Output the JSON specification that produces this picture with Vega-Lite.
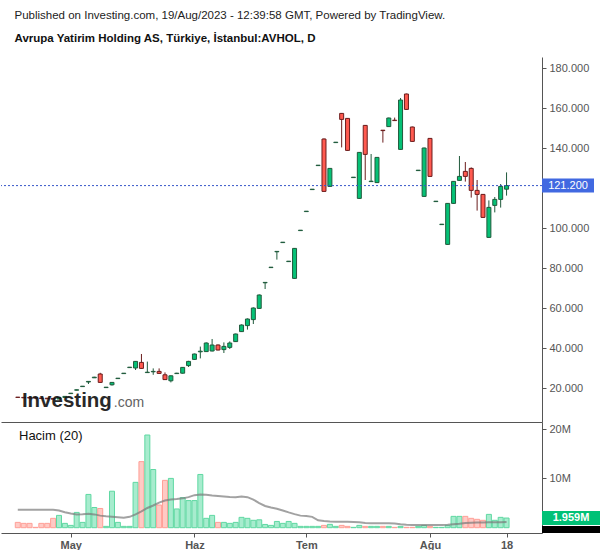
{
  "$schema": "https://vega.github.io/schema/vega-lite/v6.json",
  "background": "white",
  "padding": {"left": 0, "top": 10, "right": 0, "bottom": 0},
  "spacing": 0,
  "config": {"view": {"stroke": null}, "font": "Liberation Sans", "concat": {"spacing": 0}},
  "title": {
    "text": "Published on Investing.com, 19/Aug/2023 - 12:39:58 GMT, Powered by TradingView.",
    "subtitle": "Avrupa Yatirim Holding AS, Türkiye, İstanbul:AVHOL, D",
    "anchor": "start", "frame": "bounds", "dx": 14, "offset": 13,
    "font": "Liberation Sans", "fontSize": 11.5, "fontWeight": "normal", "color": "#222222",
    "subtitleFont": "Liberation Sans", "subtitleFontSize": 11.5, "subtitleFontWeight": "bold", "subtitleColor": "#111111",
    "subtitlePadding": 11
  },
  "datasets": {
    "candles": [
      {"i":0,"date":"2023-04-17","o":15.4,"h":15.5,"l":15.2,"c":15.3,"v":1080000,"ma":3650000},
      {"i":1,"date":"2023-04-18","o":15.3,"h":15.4,"l":15.0,"c":15.1,"v":880000,"ma":3650000},
      {"i":2,"date":"2023-04-19","o":15.2,"h":15.3,"l":14.9,"c":15.0,"v":880000,"ma":3650000},
      {"i":3,"date":"2023-04-20","o":15.1,"h":15.2,"l":14.9,"c":15.0,"v":70000,"ma":3650000},
      {"i":4,"date":"2023-04-24","o":15.0,"h":15.1,"l":14.7,"c":14.8,"v":880000,"ma":3650000},
      {"i":5,"date":"2023-04-25","o":14.9,"h":15.0,"l":14.5,"c":14.6,"v":880000,"ma":3650000},
      {"i":6,"date":"2023-04-26","o":14.8,"h":15.0,"l":14.2,"c":14.4,"v":1900000,"ma":3650000},
      {"i":7,"date":"2023-04-27","o":14.5,"h":15.4,"l":14.4,"c":15.2,"v":2500000,"ma":3500000},
      {"i":8,"date":"2023-04-28","o":15.3,"h":16.0,"l":15.2,"c":15.8,"v":880000,"ma":3150000},
      {"i":9,"date":"2023-05-02","o":17.2,"h":17.5,"l":17.1,"c":17.4,"v":470000,"ma":2900000},
      {"i":10,"date":"2023-05-03","o":18.9,"h":19.2,"l":18.8,"c":19.1,"v":3100000,"ma":2700000},
      {"i":11,"date":"2023-05-04","o":20.7,"h":21.0,"l":20.6,"c":20.9,"v":1080000,"ma":2750000},
      {"i":12,"date":"2023-05-05","o":23.0,"h":23.4,"l":22.0,"c":23.3,"v":6750000,"ma":2850000},
      {"i":13,"date":"2023-05-08","o":25.1,"h":25.6,"l":25.0,"c":25.4,"v":4100000,"ma":2700000},
      {"i":14,"date":"2023-05-09","o":27.0,"h":27.6,"l":22.6,"c":22.8,"v":3900000,"ma":2450000},
      {"i":15,"date":"2023-05-10","o":20.2,"h":20.5,"l":20.1,"c":20.4,"v":270000,"ma":2300000},
      {"i":16,"date":"2023-05-11","o":21.6,"h":23.0,"l":21.2,"c":22.8,"v":7400000,"ma":2200000},
      {"i":17,"date":"2023-05-12","o":24.7,"h":25.0,"l":24.6,"c":24.9,"v":1080000,"ma":2100000},
      {"i":18,"date":"2023-05-15","o":27.2,"h":27.5,"l":27.1,"c":27.4,"v":270000,"ma":2000000},
      {"i":19,"date":"2023-05-16","o":30.2,"h":30.5,"l":30.1,"c":30.4,"v":270000,"ma":2200000},
      {"i":20,"date":"2023-05-17","o":30.0,"h":33.5,"l":29.0,"c":33.3,"v":9200000,"ma":2700000},
      {"i":21,"date":"2023-05-18","o":32.8,"h":37.0,"l":29.6,"c":29.8,"v":13400000,"ma":3300000},
      {"i":22,"date":"2023-05-22","o":27.7,"h":33.2,"l":27.5,"c":27.9,"v":18800000,"ma":4000000},
      {"i":23,"date":"2023-05-23","o":28.1,"h":29.8,"l":26.6,"c":28.3,"v":11800000,"ma":4500000},
      {"i":24,"date":"2023-05-24","o":28.3,"h":29.8,"l":27.1,"c":27.3,"v":4600000,"ma":5100000},
      {"i":25,"date":"2023-05-25","o":26.6,"h":27.8,"l":24.0,"c":24.2,"v":9600000,"ma":5500000},
      {"i":26,"date":"2023-05-26","o":23.6,"h":26.3,"l":22.8,"c":26.1,"v":10000000,"ma":5700000},
      {"i":27,"date":"2023-05-29","o":27.2,"h":27.6,"l":27.0,"c":27.4,"v":3800000,"ma":5800000},
      {"i":28,"date":"2023-05-30","o":27.4,"h":30.5,"l":27.2,"c":30.3,"v":6100000,"ma":5950000},
      {"i":29,"date":"2023-05-31","o":31.2,"h":33.6,"l":30.5,"c":33.3,"v":5500000,"ma":6200000},
      {"i":30,"date":"2023-06-01","o":34.3,"h":37.2,"l":34.0,"c":37.0,"v":5500000,"ma":6600000},
      {"i":31,"date":"2023-06-02","o":38.1,"h":40.7,"l":34.8,"c":38.4,"v":10800000,"ma":6750000},
      {"i":32,"date":"2023-06-05","o":38.2,"h":42.8,"l":38.0,"c":42.5,"v":1900000,"ma":6700000},
      {"i":33,"date":"2023-06-06","o":38.5,"h":44.5,"l":38.3,"c":41.5,"v":2500000,"ma":6550000},
      {"i":34,"date":"2023-06-07","o":41.5,"h":41.8,"l":38.8,"c":39.0,"v":1080000,"ma":6450000},
      {"i":35,"date":"2023-06-08","o":39.2,"h":42.8,"l":37.5,"c":40.8,"v":1080000,"ma":6350000},
      {"i":36,"date":"2023-06-09","o":40.3,"h":43.3,"l":39.5,"c":42.5,"v":880000,"ma":6250000},
      {"i":37,"date":"2023-06-12","o":43.2,"h":47.2,"l":43.0,"c":47.0,"v":1080000,"ma":6200000},
      {"i":38,"date":"2023-06-13","o":48.2,"h":51.8,"l":48.0,"c":51.5,"v":2100000,"ma":6350000},
      {"i":39,"date":"2023-06-14","o":51.2,"h":54.8,"l":49.2,"c":54.5,"v":1900000,"ma":6200000},
      {"i":40,"date":"2023-06-15","o":54.2,"h":60.3,"l":52.0,"c":60.0,"v":1500000,"ma":5700000},
      {"i":41,"date":"2023-06-16","o":59.8,"h":66.8,"l":59.6,"c":66.5,"v":1600000,"ma":5000000},
      {"i":42,"date":"2023-06-19","o":72.6,"h":72.9,"l":69.5,"c":72.8,"v":660000,"ma":4400000},
      {"i":43,"date":"2023-06-20","o":80.2,"h":80.5,"l":80.1,"c":80.4,"v":470000,"ma":4100000},
      {"i":44,"date":"2023-06-21","o":88.1,"h":88.4,"l":84.2,"c":88.3,"v":1270000,"ma":3850000},
      {"i":45,"date":"2023-06-22","o":92.7,"h":93.0,"l":92.6,"c":92.9,"v":880000,"ma":3500000},
      {"i":46,"date":"2023-06-23","o":83.2,"h":83.5,"l":83.1,"c":83.4,"v":1270000,"ma":3100000},
      {"i":47,"date":"2023-06-26","o":74.8,"h":90.0,"l":74.6,"c":89.8,"v":880000,"ma":2750000},
      {"i":48,"date":"2023-06-27","o":98.7,"h":99.0,"l":98.6,"c":98.9,"v":270000,"ma":2450000},
      {"i":49,"date":"2023-07-03","o":108.2,"h":108.5,"l":108.1,"c":108.4,"v":270000,"ma":2350000},
      {"i":50,"date":"2023-07-04","o":119.2,"h":119.5,"l":119.1,"c":119.4,"v":270000,"ma":2200000},
      {"i":51,"date":"2023-07-05","o":131.2,"h":131.5,"l":131.1,"c":131.4,"v":270000,"ma":1500000},
      {"i":52,"date":"2023-07-06","o":144.5,"h":144.8,"l":118.1,"c":118.3,"v":470000,"ma":1350000},
      {"i":53,"date":"2023-07-07","o":120.8,"h":130.0,"l":120.6,"c":129.8,"v":680000,"ma":1250000},
      {"i":54,"date":"2023-07-10","o":142.7,"h":143.0,"l":142.6,"c":142.9,"v":270000,"ma":1200000},
      {"i":55,"date":"2023-07-11","o":157.3,"h":157.5,"l":140.3,"c":154.3,"v":470000,"ma":1200000},
      {"i":56,"date":"2023-07-12","o":154.8,"h":155.0,"l":138.6,"c":138.8,"v":270000,"ma":1200000},
      {"i":57,"date":"2023-07-13","o":125.2,"h":125.5,"l":125.1,"c":125.4,"v":70000,"ma":1150000},
      {"i":58,"date":"2023-07-14","o":114.8,"h":138.0,"l":114.6,"c":137.8,"v":470000,"ma":1100000},
      {"i":59,"date":"2023-07-17","o":151.3,"h":151.5,"l":124.0,"c":136.8,"v":270000,"ma":950000},
      {"i":60,"date":"2023-07-18","o":123.2,"h":137.0,"l":123.1,"c":123.4,"v":270000,"ma":900000},
      {"i":61,"date":"2023-07-19","o":122.7,"h":135.5,"l":122.5,"c":135.3,"v":270000,"ma":880000},
      {"i":62,"date":"2023-07-20","o":148.9,"h":149.0,"l":142.7,"c":148.7,"v":270000,"ma":880000},
      {"i":63,"date":"2023-07-21","o":150.7,"h":155.2,"l":150.5,"c":155.0,"v":270000,"ma":880000},
      {"i":64,"date":"2023-07-24","o":153.9,"h":155.2,"l":153.6,"c":153.7,"v":70000,"ma":850000},
      {"i":65,"date":"2023-07-25","o":139.3,"h":165.0,"l":139.1,"c":164.0,"v":270000,"ma":700000},
      {"i":66,"date":"2023-07-26","o":167.0,"h":167.2,"l":159.1,"c":159.3,"v":70000,"ma":600000},
      {"i":67,"date":"2023-07-27","o":150.5,"h":150.7,"l":143.1,"c":143.3,"v":70000,"ma":550000},
      {"i":68,"date":"2023-07-28","o":128.7,"h":129.0,"l":128.6,"c":128.9,"v":270000,"ma":550000},
      {"i":69,"date":"2023-07-31","o":115.8,"h":140.2,"l":115.6,"c":140.0,"v":470000,"ma":550000},
      {"i":70,"date":"2023-08-01","o":144.8,"h":145.0,"l":125.6,"c":125.8,"v":270000,"ma":550000},
      {"i":71,"date":"2023-08-02","o":113.2,"h":113.5,"l":113.1,"c":113.4,"v":70000,"ma":550000},
      {"i":72,"date":"2023-08-03","o":101.7,"h":102.0,"l":101.6,"c":101.9,"v":70000,"ma":550000},
      {"i":73,"date":"2023-08-04","o":91.8,"h":112.5,"l":91.6,"c":112.3,"v":470000,"ma":580000},
      {"i":74,"date":"2023-08-07","o":112.3,"h":123.5,"l":112.1,"c":123.3,"v":2300000,"ma":680000},
      {"i":75,"date":"2023-08-08","o":123.8,"h":136.0,"l":123.6,"c":125.8,"v":2300000,"ma":800000},
      {"i":76,"date":"2023-08-09","o":128.3,"h":133.0,"l":123.2,"c":125.8,"v":2300000,"ma":950000},
      {"i":77,"date":"2023-08-10","o":129.8,"h":130.3,"l":115.2,"c":118.8,"v":1900000,"ma":1000000},
      {"i":78,"date":"2023-08-11","o":118.8,"h":124.0,"l":108.7,"c":116.8,"v":1700000,"ma":1050000},
      {"i":79,"date":"2023-08-14","o":116.8,"h":117.0,"l":105.1,"c":105.3,"v":1500000,"ma":1080000},
      {"i":80,"date":"2023-08-15","o":95.3,"h":113.8,"l":95.0,"c":110.3,"v":2700000,"ma":1100000},
      {"i":81,"date":"2023-08-16","o":111.3,"h":115.5,"l":107.8,"c":114.3,"v":1500000,"ma":1120000},
      {"i":82,"date":"2023-08-17","o":114.3,"h":122.0,"l":110.2,"c":120.8,"v":2100000,"ma":1130000},
      {"i":83,"date":"2023-08-18","o":119.4,"h":127.8,"l":116.2,"c":121.2,"v":1959000,"ma":1145000}
    ],
    "last": [{"price": 121.2, "label": "121.200"}],
    "vlast": [{"v": 1959000, "label": "1.959M"}],
    "malast": [{"v": 1145000, "label": "1.145M"}],
    "logo": [{"word": "Investing", "suffix": ".com"}]
  },
  "vconcat": [
    {
      "width": 541,
      "height": 365,
      "layer": [
        {
          "data": {"name": "candles"},
          "mark": {"type": "rule", "strokeWidth": 1},
          "encoding": {
            "x": {"field": "i", "type": "quantitative",
                  "scale": {"domain": [-2, 88.17], "nice": false, "zero": false},
                  "axis": {"title": null, "labels": false, "ticks": false, "grid": false, "domainColor": "#555555", "domainWidth": 1}},
            "y": {"field": "l", "type": "quantitative",
                  "scale": {"domain": [3, 185.5], "nice": false, "zero": false},
                  "axis": {"orient": "right", "title": null, "values": [20, 40, 60, 80, 100, 140, 160, 180], "format": ".3f",
                           "grid": false, "domainColor": "#555555", "tickColor": "#555555", "tickSize": 4,
                           "labelColor": "#555555", "labelFontSize": 11, "labelPadding": 3, "labelFont": "Liberation Sans"}},
            "y2": {"field": "h"},
            "color": {"condition": {"test": "datum.c >= datum.o", "value": "#205a3c"}, "value": "#6b1d1d"}
          }
        },
        {
          "data": {"name": "candles"},
          "mark": {"type": "bar", "size": 4, "strokeWidth": 1},
          "encoding": {
            "x": {"field": "i", "type": "quantitative"},
            "y": {"field": "o", "type": "quantitative"},
            "y2": {"field": "c"},
            "fill": {"condition": {"test": "datum.c >= datum.o", "value": "#05c176"}, "value": "#ff5a50"},
            "stroke": {"condition": {"test": "datum.c >= datum.o", "value": "#205a3c"}, "value": "#6b1d1d"}
          }
        },
        {
          "data": {"name": "logo"},
          "mark": {"type": "text", "fontSize": 20.5, "fontWeight": "bold", "color": "#161616", "align": "left", "baseline": "alphabetic", "font": "Liberation Sans", "opacity": 0.92},
          "encoding": {
            "x": {"datum": 0.7},
            "y": {"datum": 10.3},
            "text": {"field": "word"}
          }
        },
        {
          "data": {"name": "logo"},
          "mark": {"type": "text", "fontSize": 14, "fontWeight": "normal", "color": "#555555", "align": "left", "baseline": "alphabetic", "font": "Liberation Sans", "opacity": 0.92},
          "encoding": {
            "x": {"datum": 16.3},
            "y": {"datum": 10.6},
            "text": {"field": "suffix"}
          }
        },
        {
          "data": {"name": "last"},
          "mark": {"type": "rule", "strokeDash": [2, 2], "color": "#3556c8", "strokeWidth": 1},
          "encoding": {"y": {"field": "price", "type": "quantitative"}}
        },
        {
          "data": {"name": "last"},
          "mark": {"type": "rect", "color": "#4169e1", "x2Offset": 52, "yOffset": -7, "y2Offset": 7},
          "encoding": {
            "x": {"value": "width"}, "x2": {"value": "width"},
            "y": {"field": "price", "type": "quantitative"}, "y2": {"field": "price"}
          }
        },
        {
          "data": {"name": "last"},
          "mark": {"type": "text", "color": "white", "fontSize": 11, "align": "center", "baseline": "middle", "dx": 26, "font": "Liberation Sans"},
          "encoding": {
            "x": {"value": "width"},
            "y": {"field": "price", "type": "quantitative"},
            "text": {"field": "label"}
          }
        }
      ]
    },
    {
      "width": 541,
      "height": 111,
      "title": {"text": "Hacim (20)", "anchor": "start", "orient": "top", "frame": "group", "offset": -21, "dx": 18,
                "fontSize": 13, "fontWeight": "normal", "color": "#111111", "font": "Liberation Sans"},
      "layer": [
        {
          "data": {"name": "candles"},
          "mark": {"type": "bar", "size": 5, "strokeWidth": 1},
          "encoding": {
            "x": {"field": "i", "type": "quantitative",
                  "scale": {"domain": [-2, 88.17], "nice": false, "zero": false},
                  "axis": {"title": null, "values": [9, 30, 49, 70, 83],
                           "labelExpr": "datum.value == 9 ? 'May' : datum.value == 30 ? 'Haz' : datum.value == 49 ? 'Tem' : datum.value == 70 ? 'Ağu' : '18'",
                           "grid": false, "domainColor": "#555555", "tickColor": "#555555", "tickSize": 4,
                           "labelColor": "#555555", "labelFontSize": 11, "labelFontWeight": "bold", "labelPadding": 2, "labelFont": "Liberation Sans"}},
            "y": {"field": "v", "type": "quantitative",
                  "scale": {"domain": [-1075000, 21440000], "nice": false, "zero": false},
                  "axis": {"orient": "right", "title": null, "values": [10000000, 20000000], "format": "~s",
                           "grid": false, "domainColor": "#555555", "tickColor": "#555555", "tickSize": 4,
                           "labelColor": "#555555", "labelFontSize": 11, "labelPadding": 3, "labelFont": "Liberation Sans"}},
            "fill": {"condition": {"test": "datum.c >= datum.o", "value": "#a7ecce"}, "value": "#ffcac5"},
            "stroke": {"condition": {"test": "datum.c >= datum.o", "value": "#5fd8a2"}, "value": "#ff9f97"}
          }
        },
        {
          "data": {"name": "candles"},
          "mark": {"type": "line", "color": "#7a7a7a", "strokeWidth": 2, "opacity": 0.7},
          "encoding": {
            "x": {"field": "i", "type": "quantitative"},
            "y": {"field": "ma", "type": "quantitative"}
          }
        },
        {
          "data": {"name": "malast"},
          "mark": {"type": "rect", "color": "#000000", "x2Offset": 59, "yOffset": 4},
          "encoding": {
            "x": {"value": "width"}, "x2": {"value": "width"},
            "y": {"field": "v", "type": "quantitative"}, "y2": {"value": "height"}
          }
        },
        {
          "data": {"name": "vlast"},
          "mark": {"type": "rect", "color": "#00c176", "x2Offset": 59, "yOffset": -7, "y2Offset": 7},
          "encoding": {
            "x": {"value": "width"}, "x2": {"value": "width"},
            "y": {"field": "v", "type": "quantitative"}, "y2": {"field": "v"}
          }
        },
        {
          "data": {"name": "vlast"},
          "mark": {"type": "text", "color": "white", "fontSize": 11, "fontWeight": "bold", "align": "center", "baseline": "middle", "dx": 29, "font": "Liberation Sans"},
          "encoding": {
            "x": {"value": "width"},
            "y": {"field": "v", "type": "quantitative"},
            "text": {"field": "label"}
          }
        }
      ]
    }
  ]
}
